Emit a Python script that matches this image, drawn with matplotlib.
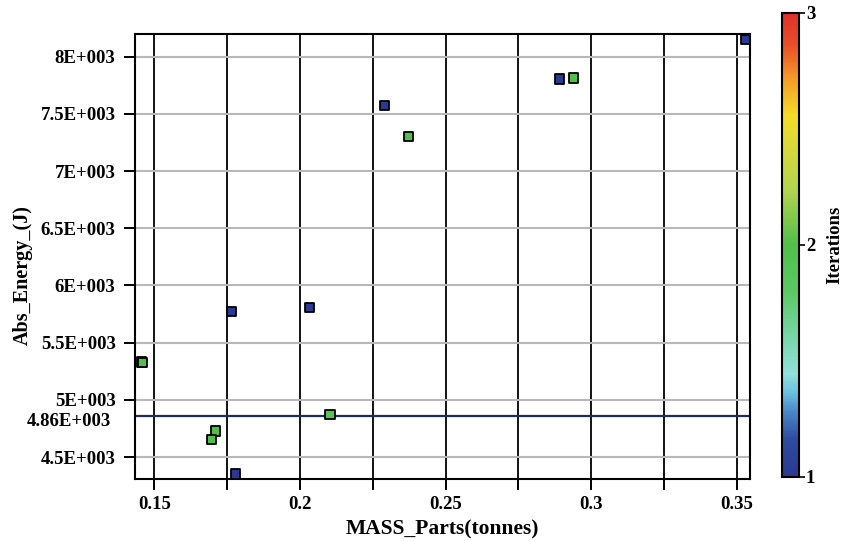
import matplotlib
matplotlib.use("Agg")
import matplotlib.pyplot as plt
from matplotlib.colors import LinearSegmentedColormap, Normalize
from matplotlib.ticker import FixedLocator

plt.rcParams['font.family'] = ['Liberation Serif', 'DejaVu Serif']
plt.rcParams['font.weight'] = 'bold'

# Design points: mass (tonnes), absorbed energy (J), iteration index
mass = [0.3529, 0.2891, 0.2291, 0.1764, 0.2034, 0.1778,
        0.2940, 0.2372, 0.1457, 0.1459, 0.1711, 0.1697, 0.2103]
energy = [8152, 7805, 7572, 5771, 5809, 4352,
          7814, 7301, 5330, 5324, 4728, 4652, 4874]
iteration = [1, 1, 1, 1, 1, 1,
             2, 2, 2, 2, 2, 2, 1.9]

energy_limit = 4860
y_ticks = [4500, 5000, 5500, 6000, 6500, 7000, 7500, 8000]
y_tick_labels = ['4.5E+003', '5E+003', '5.5E+003', '6E+003',
                 '6.5E+003', '7E+003', '7.5E+003', '8E+003']
x_ticks = [0.15, 0.2, 0.25, 0.3, 0.35]
x_tick_labels = ['0.15', '0.2', '0.25', '0.3', '0.35']
cbar_ticks = [1, 2, 3]

cmap = LinearSegmentedColormap.from_list('iter', [
    (0.00, '#2b3990'), (0.08, '#2f4ba2'), (0.14, '#4a8ac8'),
    (0.18, '#6cc0e0'), (0.22, '#90e0dc'), (0.30, '#78d6a8'),
    (0.40, '#5cc864'), (0.50, '#50bf4a'), (0.62, '#b4d450'),
    (0.78, '#f4dc28'), (0.86, '#f49a28'), (0.93, '#e85028'),
    (1.00, '#e0302a')])
norm = Normalize(vmin=1, vmax=3)

fig = plt.figure(figsize=(8.44, 5.41), dpi=100)
ax = fig.add_axes([0.160, 0.1146, 0.7287, 0.8226])

ax.set_xlim(0.14336, 0.3546)
ax.set_ylim(4308, 8198)

ax.xaxis.set_major_locator(FixedLocator(x_ticks))
ax.set_xticklabels(x_tick_labels)
ax.xaxis.set_minor_locator(FixedLocator([0.175, 0.225, 0.275, 0.325]))
ax.yaxis.set_major_locator(FixedLocator(y_ticks))
ax.set_yticklabels(y_tick_labels)

ax.tick_params(axis='both', which='both', direction='out', length=8,
               width=1.4, color='black', labelsize=13.5, pad=4)
ax.tick_params(axis='y', pad=6)

ax.grid(True, axis='x', which='both', color='black', linewidth=1.3, zorder=1)
ax.grid(True, axis='y', which='major', color='#b8b8b8', linewidth=1.5, zorder=1)
ax.set_axisbelow(True)

for s in ax.spines.values():
    s.set_linewidth(1.5)
    s.set_color('black')

ax.axhline(energy_limit, color='#1c2d5e', linewidth=1.6, zorder=2)
ax.annotate('4.86E+003', xy=(0, energy_limit), xycoords=('axes fraction', 'data'),
            xytext=(-17, -4), textcoords='offset points',
            ha='right', va='center', fontsize=13.5, fontweight='bold')

ax.scatter(mass, energy, c=iteration, cmap=cmap, norm=norm, marker='s',
           s=44, edgecolors='black', linewidths=1.3, zorder=3, clip_on=False)

ax.set_xlabel('MASS_Parts(tonnes)', fontsize=15.5, fontweight='bold', labelpad=5)
ax.set_ylabel('Abs_Energy_(J)', fontsize=14.5, fontweight='bold')
ax.yaxis.set_label_coords(-0.166, 0.458)

cax = fig.add_axes([0.9262, 0.1189, 0.0205, 0.8576])
sm = plt.cm.ScalarMappable(norm=norm, cmap=cmap)
cb = fig.colorbar(sm, cax=cax, ticks=cbar_ticks)
cb.outline.set_linewidth(1.5)
cb.ax.tick_params(length=4, width=1.2, labelsize=13.5, pad=1)
cb.ax.set_yticklabels(['1', '2', '3'])
cb.set_label('Iterations', fontsize=13.5, fontweight='bold', labelpad=8)

fig.savefig('out.png', dpi=100)
